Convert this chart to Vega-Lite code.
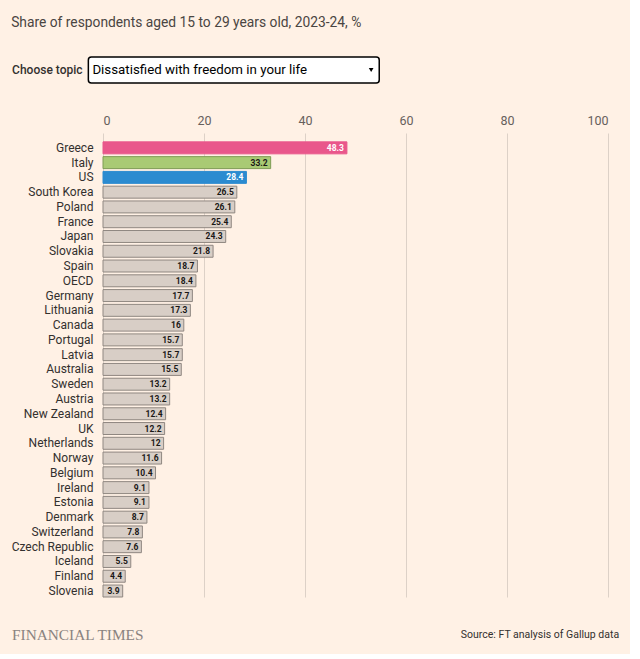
{
  "$schema": "https://vega.github.io/schema/vega-lite/v6.json",
  "background": "#fff1e5",
  "padding": {"left": 11, "top": 16, "right": 10, "bottom": 10},
  "title": {
    "text": "Share of respondents aged 15 to 29 years old, 2023-24, %",
    "anchor": "start",
    "fontSize": 13.8,
    "fontWeight": "normal",
    "color": "#4a4542",
    "offset": 26
  },
  "spacing": 30,
  "vconcat": [
    {
      "width": 505,
      "height": 26,
      "data": {"values": [{}]},
      "layer": [
        {
          "mark": {"type": "rect", "fill": "white", "stroke": "#000000", "strokeWidth": 1.5, "cornerRadius": 3},
          "encoding": {
            "x": {"datum": -2.9, "type": "quantitative", "scale": {"domain": [0, 100], "nice": false}, "axis": null},
            "x2": {"datum": 54.7}
          }
        },
        {
          "mark": {"type": "text", "align": "left", "baseline": "middle", "fontSize": 12, "fontWeight": 500, "color": "#33302e"},
          "encoding": {
            "x": {"datum": -18, "type": "quantitative"},
            "text": {"value": "Choose topic"}
          }
        },
        {
          "mark": {"type": "text", "align": "left", "baseline": "middle", "fontSize": 13.3, "color": "#000000"},
          "encoding": {
            "x": {"datum": -2.1, "type": "quantitative"},
            "text": {"value": "Dissatisfied with freedom in your life"}
          }
        },
        {
          "mark": {"type": "point", "shape": "triangle-down", "filled": true, "color": "#000000", "size": 22, "opacity": 1},
          "encoding": {
            "x": {"datum": 53.1, "type": "quantitative"}
          }
        }
      ]
    },
    {
      "width": 505,
      "height": 464,
      "data": {
        "values": [
          {"country": "Greece", "value": 48.3},
          {"country": "Italy", "value": 33.2},
          {"country": "US", "value": 28.4},
          {"country": "South Korea", "value": 26.5},
          {"country": "Poland", "value": 26.1},
          {"country": "France", "value": 25.4},
          {"country": "Japan", "value": 24.3},
          {"country": "Slovakia", "value": 21.8},
          {"country": "Spain", "value": 18.7},
          {"country": "OECD", "value": 18.4},
          {"country": "Germany", "value": 17.7},
          {"country": "Lithuania", "value": 17.3},
          {"country": "Canada", "value": 16},
          {"country": "Portugal", "value": 15.7},
          {"country": "Latvia", "value": 15.7},
          {"country": "Australia", "value": 15.5},
          {"country": "Sweden", "value": 13.2},
          {"country": "Austria", "value": 13.2},
          {"country": "New Zealand", "value": 12.4},
          {"country": "UK", "value": 12.2},
          {"country": "Netherlands", "value": 12},
          {"country": "Norway", "value": 11.6},
          {"country": "Belgium", "value": 10.4},
          {"country": "Ireland", "value": 9.1},
          {"country": "Estonia", "value": 9.1},
          {"country": "Denmark", "value": 8.7},
          {"country": "Switzerland", "value": 7.8},
          {"country": "Czech Republic", "value": 7.6},
          {"country": "Iceland", "value": 5.5},
          {"country": "Finland", "value": 4.4},
          {"country": "Slovenia", "value": 3.9}
        ]
      },
      "encoding": {
        "y": {
          "field": "country",
          "type": "nominal",
          "sort": null,
          "scale": {"paddingInner": 0.19, "paddingOuter": 0.3, "align": 1},
          "axis": {
            "title": null,
            "ticks": false,
            "domain": false,
            "labelPadding": 10,
            "labelFontSize": 12,
            "labelColor": "#33302e"
          }
        },
        "x": {
          "field": "value",
          "type": "quantitative",
          "scale": {"domain": [0, 100], "nice": false},
          "axis": {
            "orient": "top",
            "title": null,
            "values": [0, 20, 40, 60, 80, 100],
            "grid": true,
            "gridColor": "#ddd1c7",
            "gridWidth": 1,
            "ticks": false,
            "domain": false,
            "labelPadding": 6,
            "labelFontSize": 12.5,
            "labelColor": "#66605c"
          }
        }
      },
      "layer": [
        {
          "mark": {"type": "bar", "strokeWidth": 1},
          "encoding": {
            "fill": {
              "condition": [
                {"test": "datum.country === 'Greece'", "value": "#e9578b"},
                {"test": "datum.country === 'Italy'", "value": "#a9ca74"},
                {"test": "datum.country === 'US'", "value": "#2b8bd0"}
              ],
              "value": "#d8cec6"
            },
            "stroke": {
              "condition": [
                {"test": "datum.country === 'Greece'", "value": "#e9578b"},
                {"test": "datum.country === 'Italy'", "value": "#7e9c55"},
                {"test": "datum.country === 'US'", "value": "#2b8bd0"}
              ],
              "value": "#8f8781"
            }
          }
        },
        {
          "mark": {"type": "text", "align": "right", "baseline": "middle", "dx": -3, "fontSize": 8.5, "fontWeight": "bold"},
          "encoding": {
            "text": {"field": "value", "type": "quantitative"},
            "color": {
              "condition": {"test": "datum.country === 'Greece' || datum.country === 'US'", "value": "#ffffff"},
              "value": "#1a1817"
            }
          }
        }
      ]
    },
    {
      "width": 505,
      "height": 14,
      "data": {"values": [{}]},
      "layer": [
        {
          "mark": {"type": "text", "align": "left", "baseline": "middle", "fontSize": 15.3, "font": "Liberation Serif", "color": "#8a8380"},
          "encoding": {
            "x": {"datum": -18, "type": "quantitative", "scale": {"domain": [0, 100], "nice": false}, "axis": null},
            "text": {"value": "FINANCIAL TIMES"}
          }
        },
        {
          "mark": {"type": "text", "align": "right", "baseline": "middle", "fontSize": 10.5, "color": "#33302e"},
          "encoding": {
            "x": {"datum": 102.2, "type": "quantitative"},
            "text": {"value": "Source: FT analysis of Gallup data"}
          }
        }
      ]
    }
  ],
  "config": {
    "font": "Roboto",
    "view": {"stroke": null}
  }
}
